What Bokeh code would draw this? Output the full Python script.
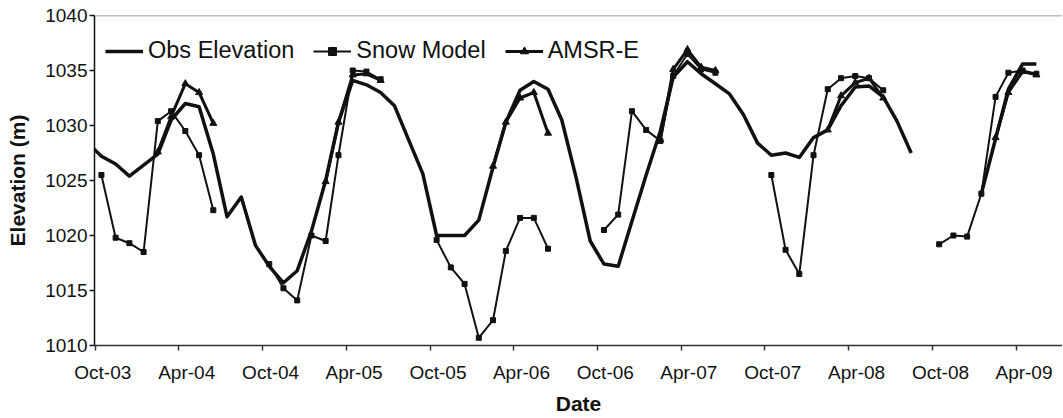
import numpy as np
import pandas as pd
from bokeh.plotting import figure
from bokeh.models import (LinearAxis, FixedTicker, Legend, LegendItem, Span,
                          Range1d, ColumnDataSource)
from bokeh.embed import file_html
from bokeh.resources import INLINE

# ---------------- data ----------------
# Observed lake elevation, one value per month (mid-month), starting Sep 2003
obs_first_month = "2003-09"
obs_elevation = [
    1028.4,                                                   # Sep-03
    1027.2, 1026.5, 1025.4, 1026.4, 1027.4, 1030.5, 1032.0,   # Oct-03 .. Apr-04
    1031.7, 1027.4, 1021.7, 1023.5, 1019.1,                   # May-04 .. Sep-04
    1017.2, 1015.7, 1016.8, 1020.4, 1025.0, 1030.3, 1034.1,   # Oct-04 .. Apr-05
    1033.7, 1033.0, 1031.8, 1028.7, 1025.6,                   # May-05 .. Sep-05
    1020.0, 1020.0, 1020.0, 1021.4, 1026.2, 1030.3, 1033.2,   # Oct-05 .. Apr-06
    1034.0, 1033.3, 1030.5, 1025.3, 1019.5,                   # May-06 .. Sep-06
    1017.4, 1017.2, 1021.3, 1025.5, 1029.5, 1034.4, 1035.8,   # Oct-06 .. Apr-07
    1034.7, 1033.8, 1032.9, 1031.0, 1028.4,                   # May-07 .. Sep-07
    1027.3, 1027.5, 1027.1, 1028.9, 1029.6, 1031.8, 1033.5,   # Oct-07 .. Apr-08
    1033.6, 1032.6, 1030.4, 1027.5, None,                     # May-08 .. Sep-08
    None, None, None, 1023.8, 1028.8, 1033.3, 1035.6,         # Oct-08 .. Apr-09
    1035.6,                                                   # May-09
]

# Snow model, one segment per winter (Oct .. Jun)
snow_first_months = ["2003-10", "2004-10", "2005-10", "2006-10", "2007-10", "2008-10"]
snow_model = [
    [1025.5, 1019.8, 1019.3, 1018.5, 1030.4, 1031.3, 1029.5, 1027.3, 1022.3],
    [1017.4, 1015.2, 1014.1, 1020.0, 1019.5, 1027.3, 1035.0, 1034.9, 1034.2],
    [1019.6, 1017.1, 1015.6, 1010.7, 1012.3, 1018.6, 1021.6, 1021.6, 1018.8],
    [1020.5, 1021.9, 1031.3, 1029.6, 1028.6, 1034.5, 1036.5, 1035.1, 1034.8],
    [1025.5, 1018.7, 1016.5, 1027.3, 1033.3, 1034.3, 1034.5, 1034.3, 1033.2],
    [1019.2, 1020.0, 1019.9, 1023.8, 1032.6, 1034.8, 1035.0, 1034.7],
]

# AMSR-E, one segment per spring (Feb .. Jun)
amsr_first_months = ["2004-02", "2005-02", "2006-02", "2007-02", "2008-02", "2009-02"]
amsr_e = [
    [1027.6, 1030.8, 1033.8, 1033.0, 1030.2],
    [1024.9, 1030.3, 1034.6, 1034.7, 1034.1],
    [1026.3, 1030.3, 1032.5, 1033.0, 1029.3],
    [1028.7, 1035.1, 1036.9, 1035.3, 1035.0],
    [1029.6, 1032.7, 1033.9, 1034.3, 1032.5],
    [1028.9, 1033.0, 1034.9, 1034.6],
]

tick_months = ["2003-10", "2004-04", "2004-10", "2005-04", "2005-10", "2006-04",
               "2006-10", "2007-04", "2007-10", "2008-04", "2008-10", "2009-04"]
tick_labels = ["Oct-03", "Apr-04", "Oct-04", "Apr-05", "Oct-05", "Apr-06",
               "Oct-06", "Apr-07", "Oct-07", "Apr-08", "Oct-08", "Apr-09"]
y_ticks = [1010, 1015, 1020, 1025, 1030, 1035, 1040]

# ---------------- helpers ----------------
def ms(ts):
    return pd.Timestamp(ts).value / 1e6

def mid_months(first, n):
    base = pd.Period(first, freq="M")
    return [ms((base + i).to_timestamp() + pd.Timedelta(days=14)) for i in range(n)]

def segments(firsts, values):
    xs, ys = [], []
    for f, vals in zip(firsts, values):
        d = mid_months(f, len(vals))
        if xs:
            xs.append(d[0]); ys.append(np.nan)
        xs.extend(d); ys.extend(vals)
    return xs, ys

obs_x = mid_months(obs_first_month, len(obs_elevation))
obs_y = [np.nan if v is None else v for v in obs_elevation]
snow_x, snow_y = segments(snow_first_months, snow_model)
amsr_x, amsr_y = segments(amsr_first_months, amsr_e)

obs_src = ColumnDataSource(dict(x=obs_x, y=obs_y))
snow_src = ColumnDataSource(dict(x=snow_x, y=snow_y))
amsr_src = ColumnDataSource(dict(x=amsr_x, y=amsr_y))

# ---------------- figure ----------------
W, H = 1062, 417
BL, BT = 94, 15
FRAME_H = 330
BB = H - BT - FRAME_H
days_per_px = 2009 / 921.2
x_start = pd.Timestamp("2003-10-01") - pd.Timedelta(days=0.5 * days_per_px)
x_end = x_start + pd.Timedelta(days=(W - BL) * days_per_px)

p = figure(width=W, height=H, output_backend="svg", toolbar_location=None,
           x_axis_type="datetime", x_axis_location=None,
           x_range=Range1d(ms(x_start), ms(x_end)),
           y_range=Range1d(1010, 1040))
p.min_border = 0
p.min_border_left = BL
p.min_border_top = BT
p.min_border_bottom = BB
p.min_border_right = 0
p.outline_line_color = None
p.background_fill_color = "white"
p.border_fill_color = "white"
p.xgrid.visible = False
p.ygrid.visible = False

FONT = "Liberation Sans"
INK = "#111111"

# y axis
ya = p.yaxis[0]
ya.ticker = FixedTicker(ticks=y_ticks)
ya.axis_label = "Elevation (m)"
ya.axis_label_text_font = FONT
ya.axis_label_text_font_style = "bold"
ya.axis_label_text_font_size = "21px"
ya.axis_label_text_color = INK
ya.axis_label_standoff = 13
ya.major_label_text_font = FONT
ya.major_label_text_font_size = "19px"
ya.major_label_text_color = INK
ya.major_label_standoff = 2
ya.major_tick_in = 0
ya.major_tick_out = 5
ya.minor_tick_line_color = None
ya.axis_line_color = INK
ya.axis_line_width = 1.5
ya.major_tick_line_color = INK
ya.major_tick_line_width = 1.5

# x axis: tick marks at month starts (drawn as minor ticks),
# labels placed slightly right of them (major ticks, invisible), as in the reference
tick_ms = [ms(pd.Period(m, freq="M").to_timestamp()) for m in tick_months]
label_ms = [t + 17 * 86400000 for t in tick_ms]
xa = LinearAxis(ticker=FixedTicker(ticks=label_ms, minor_ticks=tick_ms),
                major_label_overrides={t: lab for t, lab in zip(label_ms, tick_labels)},
                axis_line_color="#333333", axis_line_width=1.5,
                major_tick_line_color=None, major_tick_in=0, major_tick_out=0,
                minor_tick_line_color="#333333", minor_tick_line_width=1.5,
                minor_tick_in=0, minor_tick_out=5,
                major_label_standoff=11,
                major_label_text_font=FONT, major_label_text_font_size="19px",
                major_label_text_color=INK,
                axis_label="Date", axis_label_standoff=6,
                axis_label_text_font=FONT, axis_label_text_font_style="bold",
                axis_label_text_font_size="21px", axis_label_text_color=INK)
p.add_layout(xa, "below")

# top border line of the plot area
p.add_layout(Span(location=1040, dimension="width", line_color="#808080", line_width=1.5))

# ---------------- series ----------------
obs_line = p.line("x", "y", source=obs_src, line_color=INK, line_width=3.5, line_join="round")
snow_line = p.line("x", "y", source=snow_src, line_color=INK, line_width=2)
snow_pts = p.scatter("x", "y", source=snow_src, marker="square", size=5,
                     line_color=INK, fill_color=INK)
amsr_line = p.line("x", "y", source=amsr_src, line_color=INK, line_width=3, line_join="round")
amsr_pts = p.scatter("x", "y", source=amsr_src, marker="triangle", size=7,
                     line_color=INK, fill_color=INK)

legend = Legend(items=[
    LegendItem(label="Obs Elevation", renderers=[obs_line]),
    LegendItem(label="Snow Model", renderers=[snow_line, snow_pts]),
    LegendItem(label="AMSR-E", renderers=[amsr_line, amsr_pts]),
], orientation="horizontal", location=(11, 281),
   glyph_width=38, glyph_height=20, label_standoff=5, spacing=19,
   padding=0, margin=0, border_line_color=None, background_fill_alpha=0,
   label_text_font=FONT, label_text_font_size="23.5px", label_text_color=INK)
p.add_layout(legend)

open("out.html", "w").write(file_html(p, INLINE))
